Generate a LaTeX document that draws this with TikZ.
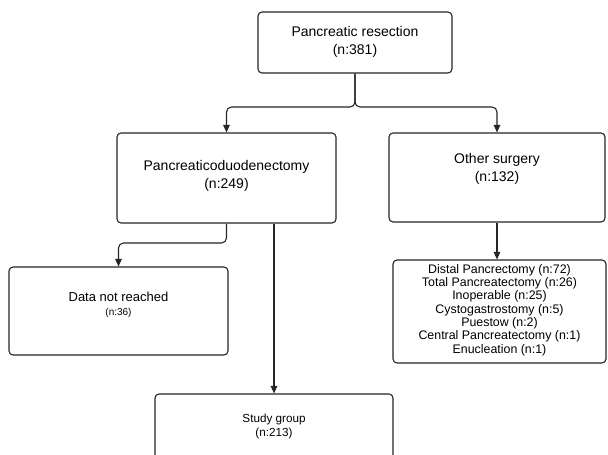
\documentclass[tikz,border=0pt]{standalone}
\usepackage{fontspec}
\setmainfont{Liberation Sans}
\usetikzlibrary{arrows.meta}
\begin{document}
\begin{tikzpicture}[x=1pt,y=-1pt,
  box/.style={draw=black!85, line width=1.1pt, rounded corners=4pt, inner sep=0pt, fill=white},
  conn/.style={draw=black!85, line width=1.1pt, rounded corners=5pt},
  arr/.style={conn, -{Triangle[length=7.5pt,width=6.5pt]}},
  big/.style={font=\fontsize{14}{18}\selectfont, align=center, inner sep=0pt},
  mid/.style={font=\fontsize{13}{16}\selectfont, align=center, inner sep=0pt},
  small/.style={font=\fontsize{11.7}{14}\selectfont, align=center, inner sep=0pt},
  lst/.style={font=\fontsize{12.4}{13.3}\selectfont, align=center, inner sep=0pt}]
\useasboundingbox (0,0) rectangle (608,455);
\clip (0,0) rectangle (608,455);
\fill[white] (0,0) rectangle (608,455);
% boxes
\node[box, minimum width=194pt, minimum height=61pt] (top) at (355,42.5) {};
\node[box, minimum width=219pt, minimum height=90pt] (pd) at (226.5,178) {};
\node[box, minimum width=216pt, minimum height=89pt] (other) at (497,177.5) {};
\node[box, minimum width=219pt, minimum height=88pt] (dnr) at (118.5,311) {};
\node[box, minimum width=213pt, minimum height=103pt] (list) at (499.5,311.5) {};
\node[box, minimum width=238pt, minimum height=100pt] (study) at (274,444) {};
% texts
\node[big] (ttop) at (355,42) {Pancreatic resection\\(n:381)};
\node[big] (tpd) at (226.5,176) {Pancreaticoduodenectomy\\(n:249)};
\node[big] (tother) at (497,169) {Other surgery\\(n:132)};
\node[mid] (tdnr) at (118.5,297) {Data not reached};
\node[font=\fontsize{10}{12}\selectfont, inner sep=0pt] (tdnr2) at (118.5,313) {(n:36)};
\node[lst] (tlist) at (499.5,310) {Distal Pancrectomy (n:72)\\Total Pancreatectomy (n:26)\\Inoperable (n:25)\\Cystogastrostomy (n:5)\\Puestow (n:2)\\Central Pancreatectomy (n:1)\\Enucleation (n:1)};
\node[small] (tstudy) at (274,426) {Study group\\(n:213)};
% connectors
\coordinate (j) at (355,107);
\draw[arr] (top.south) -- (j) -- (j -| pd.north) -- (pd.north);
\draw[arr] (top.south) -- (j) -- (j -| other.north) -- (other.north);
\coordinate (k) at (226.5,243);
\draw[arr] (pd.south) -- (k) -- (k -| dnr.north) -- (dnr.north);
\draw[arr, rounded corners=0pt] (pd.south -| study.north) -- (study.north);
\draw[arr] (other.south) -- (other.south |- list.north);
\end{tikzpicture}
\end{document}
